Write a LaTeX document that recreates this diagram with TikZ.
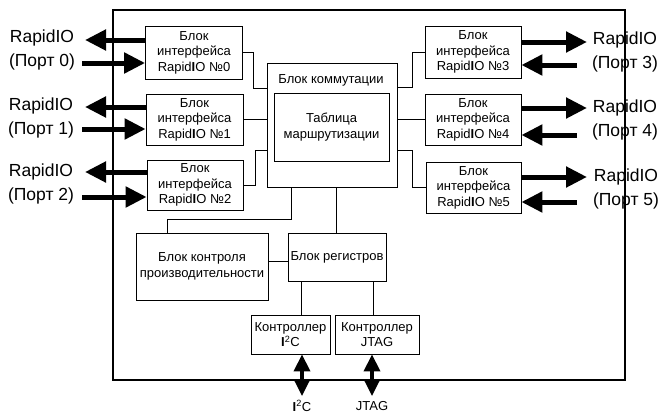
\documentclass[tikz,border=0pt]{standalone}
\usepackage{fontspec}
\setmainfont{Liberation Sans}
\usetikzlibrary{arrows.meta}
\newcommand{\rio}{Rapid\textbf{I}O}
\newcommand{\itc}{\textbf{I}\textsuperscript{2}C}
\begin{document}
\begin{tikzpicture}[x=1pt,y=-1pt,
  blk/.style={draw, line width=0.8pt, inner sep=0pt, align=center,
    font=\fontsize{13}{15.5}\selectfont},
  link/.style={line width=0.8pt},
  port/.style={line width=5pt, -{Triangle[length=21pt,width=20pt]}},
  bus/.style={line width=3.5pt, {Triangle[length=17pt,width=16pt]}-{Triangle[length=17pt,width=16pt]}},
  plabel/.style={align=center, inner sep=0pt, font=\fontsize{17.5}{24}\selectfont},
  blabel/.style={inner sep=0pt, font=\fontsize{13}{15}\selectfont}]
\useasboundingbox (0,0) rectangle (662,415);

% chip outline
\draw[line width=2pt] (113,10) rectangle (625,380);

% RapidIO interface blocks
\node[blk, minimum width=97pt, minimum height=53pt] (b0) at (194,52.5) {Блок\\интерфейса\\\rio{} №0};
\node[blk, minimum width=97pt, minimum height=51pt] (b1) at (194.5,119.5) {Блок\\интерфейса\\\rio{} №1};
\node[blk, minimum width=96pt, minimum height=50pt] (b2) at (195,185) {Блок\\интерфейса\\\rio{} №2};
\node[blk, minimum width=96pt, minimum height=52pt] (b3) at (473,52) {Блок\\интерфейса\\\rio{} №3};
\node[blk, minimum width=96pt, minimum height=51pt] (b4) at (473,119.5) {Блок\\интерфейса\\\rio{} №4};
\node[blk, minimum width=95pt, minimum height=51pt] (b5) at (473.5,187.5) {Блок\\интерфейса\\\rio{} №5};

% switch with routing table
\node[blk, minimum width=130pt, minimum height=124pt] (sw) at (332,125) {};
\node[blabel] (swl) at (331,80) {Блок коммутации};
\node[blk, minimum width=115pt, minimum height=68pt] (tbl) at (331.5,127) {Таблица\\маршрутизации};

% performance monitor and registers
\node[blk, minimum width=132pt, minimum height=67pt] (perf) at (202,266.5) {Блок контроля\\производительности};
\node[blk, minimum width=98pt, minimum height=48pt] (reg) at (337,257) {Блок регистров};

% controllers
\node[blk, minimum width=79pt, minimum height=39pt] (i2c) at (290.5,334.5) {Контроллер\\\itc};
\node[blk, minimum width=84pt, minimum height=39pt] (jtag) at (377,334.5) {Контроллер\\JTAG};

% internal links
\draw[link] (b0.east) -- ++(10,0) |- (sw.west |- 0,88);
\draw[link] (b1.east) -- (sw.west |- b1.east);
\draw[link] (b2.east) -- ++(12,0) |- (sw.west |- 0,150);
\draw[link] (b3.west) -- ++(-12,0) |- (sw.east |- 0,87);
\draw[link] (b4.west) -- (sw.east |- b4.west);
\draw[link] (b5.west) -- ++(-13,0) |- (sw.east |- 0,150);
\draw[link] (perf.north -| 167,0) |- (291,219) -- (sw.south -| 291,0);
\draw[link] (sw.south -| 336,0) -- (reg.north -| 336,0);
\draw[link] (perf.east |- 0,261) -- (reg.west |- 0,261);
\draw[link] (reg.south -| 301,0) -- (i2c.north -| 301,0);
\draw[link] (reg.south -| 373,0) -- (jtag.north -| 373,0);

% external port ends
\coordinate (p0o) at (85,40);  \coordinate (p0i) at (82,63);
\coordinate (p1o) at (85,107); \coordinate (p1i) at (82,129);
\coordinate (p2o) at (85,172); \coordinate (p2i) at (82,197);
\coordinate (p3o) at (587,42); \coordinate (p3i) at (577,65);
\coordinate (p4o) at (587,108); \coordinate (p4i) at (577,135);
\coordinate (p5o) at (587,177); \coordinate (p5i) at (577,202);
\coordinate (i2cp) at (302,396);
\coordinate (jtagp) at (372,396);

% RapidIO port arrows
\draw[port] (b0.west |- p0o) -- (p0o);
\draw[port] (p0i) -- (b0.west |- p0i);
\draw[port] (b1.west |- p1o) -- (p1o);
\draw[port] (p1i) -- (b1.west |- p1i);
\draw[port] (b2.west |- p2o) -- (p2o);
\draw[port] (p2i) -- (b2.west |- p2i);
\draw[port] (b3.east |- p3o) -- (p3o);
\draw[port] (p3i) -- (b3.east |- p3i);
\draw[port] (b4.east |- p4o) -- (p4o);
\draw[port] (p4i) -- (b4.east |- p4i);
\draw[port] (b5.east |- p5o) -- (p5o);
\draw[port] (p5i) -- (b5.east |- p5i);

% I2C and JTAG buses
\draw[bus] (i2c.south -| i2cp) -- (i2cp);
\draw[bus] (jtag.south -| jtagp) -- (jtagp);

% port labels
\node[plabel] (l0) at (42,50)  {RapidIO\\(Порт 0)};
\node[plabel] (l1) at (41,118) {RapidIO\\(Порт 1)};
\node[plabel] (l2) at (41,184) {RapidIO\\(Порт 2)};
\node[plabel] (l3) at (625,52)  {RapidIO\\(Порт 3)};
\node[plabel] (l4) at (625,120) {RapidIO\\(Порт 4)};
\node[plabel] (l5) at (626,189) {RapidIO\\(Порт 5)};
\node[blabel] (li2c) at (302,406) {\itc};
\node[blabel] (ljtag) at (372,406) {JTAG};
\end{tikzpicture}
\end{document}
